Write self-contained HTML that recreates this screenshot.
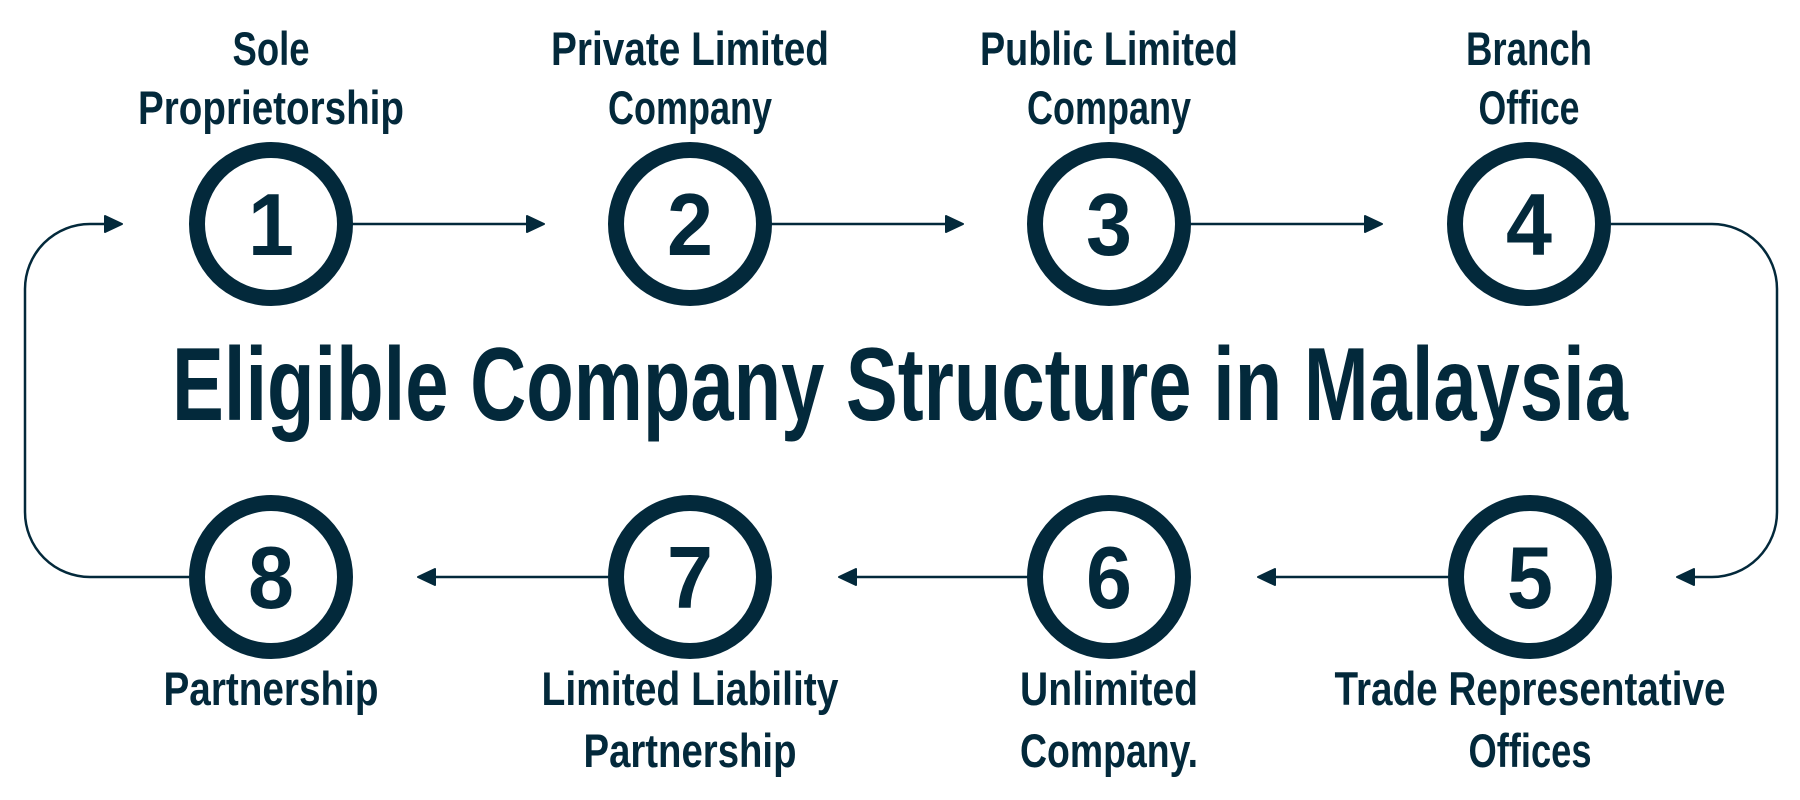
<!DOCTYPE html>
<html><head><meta charset="utf-8"><style>
html,body{margin:0;padding:0;background:#fff;}
svg{display:block;}
text{font-family:"Liberation Sans",sans-serif;font-weight:bold;fill:#03293b;}
</style></head><body>
<svg width="1800" height="800" viewBox="0 0 1800 800" xmlns="http://www.w3.org/2000/svg">
<defs>
<marker id="ar" viewBox="0 0 20 20" refX="18" refY="10" markerWidth="20" markerHeight="20" markerUnits="userSpaceOnUse" orient="auto">
<path d="M2,2 L19,10 L2,18 Z" fill="#03293b" stroke="#03293b" stroke-width="2" stroke-linejoin="round"/>
</marker>
</defs>
<g fill="none" stroke="#03293b" stroke-width="2.5">
<line x1="352" y1="224" x2="543" y2="224" marker-end="url(#ar)"/>
<line x1="771" y1="224" x2="962" y2="224" marker-end="url(#ar)"/>
<line x1="1190" y1="224" x2="1381" y2="224" marker-end="url(#ar)"/>
<path d="M1611,224 H1712 A65,65 0 0 1 1777,289 V512 A65,65 0 0 1 1712,577 H1678" marker-end="url(#ar)"/>
<line x1="1448" y1="577" x2="1259" y2="577" marker-end="url(#ar)"/>
<line x1="1028" y1="577" x2="840" y2="577" marker-end="url(#ar)"/>
<line x1="608" y1="577" x2="419" y2="577" marker-end="url(#ar)"/>
<path d="M189,577 H90 A65,65 0 0 1 25,512 V289 A65,65 0 0 1 90,224 H121" marker-end="url(#ar)"/>
</g>
<g fill="#fff" stroke="#03293b" stroke-width="16">
<circle cx="271" cy="224" r="74"/>
<circle cx="690" cy="224" r="74"/>
<circle cx="1109" cy="224" r="74"/>
<circle cx="1529" cy="224" r="74"/>
<circle cx="1530" cy="577" r="74"/>
<circle cx="1109" cy="577" r="74"/>
<circle cx="690" cy="577" r="74"/>
<circle cx="271" cy="577" r="74"/>
</g>
<g font-size="88" text-anchor="middle">
<text x="271" y="255" textLength="46" lengthAdjust="spacingAndGlyphs">1</text>
<text x="690" y="255" textLength="46" lengthAdjust="spacingAndGlyphs">2</text>
<text x="1109" y="255" textLength="46" lengthAdjust="spacingAndGlyphs">3</text>
<text x="1529" y="255" textLength="46" lengthAdjust="spacingAndGlyphs">4</text>
<text x="1530" y="608" textLength="46" lengthAdjust="spacingAndGlyphs">5</text>
<text x="1109" y="608" textLength="46" lengthAdjust="spacingAndGlyphs">6</text>
<text x="690" y="608" textLength="46" lengthAdjust="spacingAndGlyphs">7</text>
<text x="271" y="608" textLength="46" lengthAdjust="spacingAndGlyphs">8</text>
</g>
<text x="900" y="420" font-size="104" text-anchor="middle" textLength="1456" lengthAdjust="spacingAndGlyphs">Eligible Company Structure in Malaysia</text>
<g font-size="47" text-anchor="middle">
<text x="271" y="65" textLength="77" lengthAdjust="spacingAndGlyphs">Sole</text>
<text x="271" y="124" textLength="266" lengthAdjust="spacingAndGlyphs">Proprietorship</text>
<text x="690" y="65" textLength="278" lengthAdjust="spacingAndGlyphs">Private Limited</text>
<text x="690" y="124" textLength="164" lengthAdjust="spacingAndGlyphs">Company</text>
<text x="1109" y="65" textLength="258" lengthAdjust="spacingAndGlyphs">Public Limited</text>
<text x="1109" y="124" textLength="164" lengthAdjust="spacingAndGlyphs">Company</text>
<text x="1529" y="65" textLength="126" lengthAdjust="spacingAndGlyphs">Branch</text>
<text x="1529" y="124" textLength="101" lengthAdjust="spacingAndGlyphs">Office</text>
<text x="271" y="705" textLength="215" lengthAdjust="spacingAndGlyphs">Partnership</text>
<text x="690" y="705" textLength="297" lengthAdjust="spacingAndGlyphs">Limited Liability</text>
<text x="690" y="767" textLength="213" lengthAdjust="spacingAndGlyphs">Partnership</text>
<text x="1109" y="705" textLength="178" lengthAdjust="spacingAndGlyphs">Unlimited</text>
<text x="1109" y="767" textLength="178" lengthAdjust="spacingAndGlyphs">Company.</text>
<text x="1530" y="705" textLength="391" lengthAdjust="spacingAndGlyphs">Trade Representative</text>
<text x="1530" y="767" textLength="123" lengthAdjust="spacingAndGlyphs">Offices</text>
</g>
</svg>
</body></html>
